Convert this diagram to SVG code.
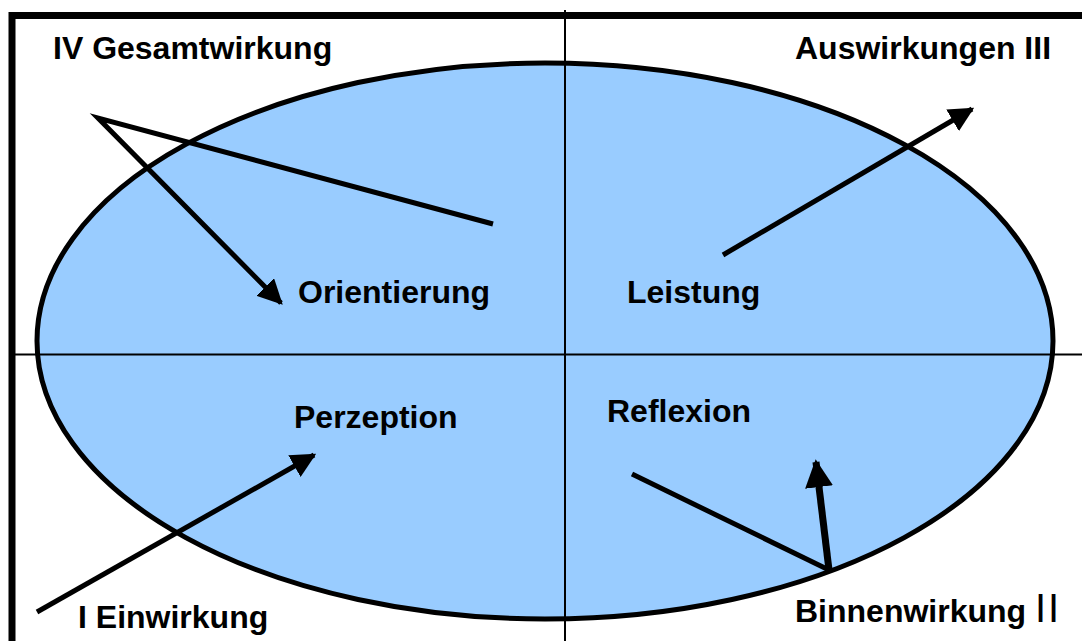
<svg xmlns="http://www.w3.org/2000/svg" width="1082" height="641" viewBox="0 0 1082 641">
<defs>
<style>
.lbl{font-family:"Liberation Sans",Arial,sans-serif;font-weight:bold;font-size:32px;fill:#000}
.ln{stroke:#000;stroke-width:5;fill:none}
</style>
<marker id="ah" viewBox="0 0 10 10" refX="9" refY="5" markerWidth="5" markerHeight="5" orient="auto" markerUnits="strokeWidth">
<path d="M0,0 L10,5 L0,10 z" fill="#000"/>
</marker>
<marker id="ah2" viewBox="0 0 10 10" refX="9" refY="5" markerWidth="4" markerHeight="4" orient="auto" markerUnits="strokeWidth">
<path d="M0,0 L10,5 L0,10 z" fill="#000"/>
</marker>
</defs>
<rect width="1082" height="641" fill="#fff"/>
<g id="frame">
<path d="M12,641 V15.5 H1082" fill="none" stroke="#000" stroke-width="7"/>
</g>
<g id="ellipse">
<ellipse cx="545" cy="341" rx="508" ry="278" fill="#99CCFF" stroke="#000" stroke-width="5"/>
</g>
<g id="axes">
<line x1="565" y1="10" x2="565" y2="641" stroke="#000" stroke-width="2"/>
<line x1="13" y1="354.5" x2="1082" y2="354.5" stroke="#000" stroke-width="2"/>
</g>
<g id="connectors">
<polyline class="ln" points="493,224 98,118 281,303" marker-end="url(#ah)"/>
<line class="ln" x1="723" y1="255" x2="972" y2="109" marker-end="url(#ah)"/>
<line class="ln" x1="37" y1="612" x2="314" y2="455" marker-end="url(#ah)"/>
<polyline class="ln" points="632,474 829,570"/>
<line x1="829" y1="570" x2="816" y2="462" stroke="#000" stroke-width="7" marker-end="url(#ah2)"/>
</g>
<g id="n-gesamtwirkung"><text class="lbl" x="53" y="59">IV Gesamtwirkung</text></g>
<g id="n-auswirkungen"><text class="lbl" x="795" y="59">Auswirkungen III</text></g>
<g id="n-orientierung"><text class="lbl" x="298" y="303">Orientierung</text></g>
<g id="n-leistung"><text class="lbl" x="627" y="303">Leistung</text></g>
<g id="n-perzeption"><text class="lbl" x="294" y="428">Perzeption</text></g>
<g id="n-reflexion"><text class="lbl" x="607" y="422">Reflexion</text></g>
<g id="n-einwirkung"><text class="lbl" x="78" y="628">I Einwirkung</text></g>
<g id="n-binnenwirkung"><text class="lbl" x="795" y="622">Binnenwirkung <tspan style="font-weight:normal;font-size:40px" letter-spacing="2">II</tspan></text></g>
</svg>
